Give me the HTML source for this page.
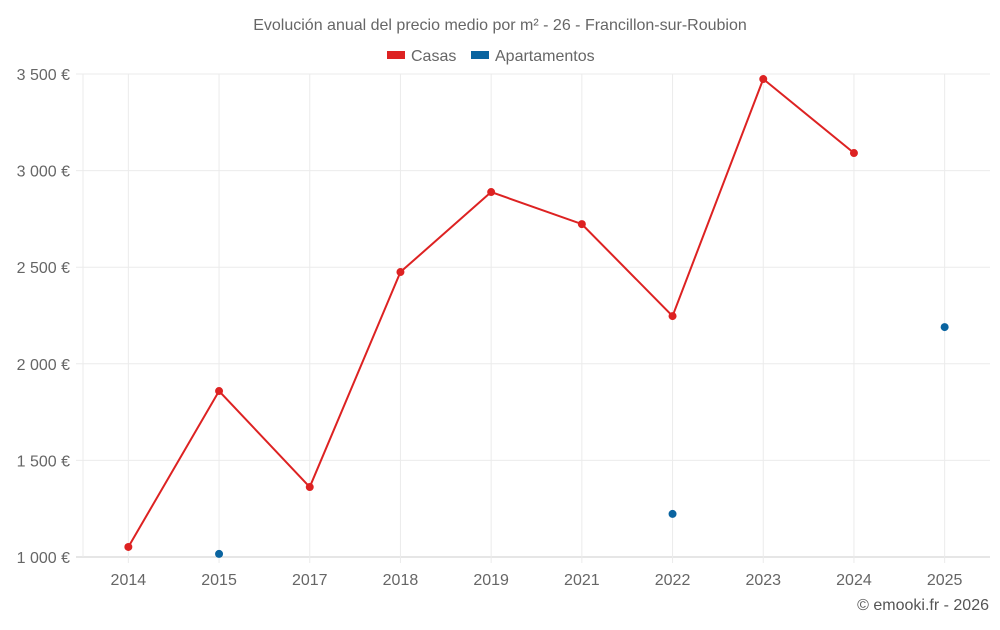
<!DOCTYPE html>
<html><head><meta charset="utf-8"><style>
body{margin:0;background:#fff;font-family:"Liberation Sans",sans-serif;}
svg text{font-family:"Liberation Sans",sans-serif;}
</style></head><body>
<svg id="c" width="1000" height="625">
<text x="500" y="30" text-anchor="middle" font-size="16" fill="#666">Evolución anual del precio medio por m² - 26 - Francillon-sur-Roubion</text>
<g><rect x="387" y="51" width="18" height="8" fill="#dd2222"/><text x="411" y="61" font-size="16" fill="#666">Casas</text></g>
<g><rect x="471" y="51" width="18" height="8" fill="#0a64a0"/><text x="495" y="61" font-size="16" fill="#666">Apartamentos</text></g>
<text x="989" y="610" text-anchor="end" font-size="16" fill="#555">© emooki.fr - 2026</text>
<g id="plot"></g>
</svg>
<script>
const categories=["2014","2015","2017","2018","2019","2021","2022","2023","2024","2025"];
const casas=[1052,1859,1362,2475,2889,2723,2247,3474,3091,null];
const apartamentos=[null,1016,null,null,null,null,1223,null,null,2190];
const yTicks=[1000,1500,2000,2500,3000,3500];
const yLabels=["1 000 €","1 500 €","2 000 €","2 500 €","3 000 €","3 500 €"];
const L=83,R=990,T=74,B=557,ymin=1000,ymax=3500;
const bw=(R-L)/categories.length;
const x=i=>L+bw*(i+0.5);
const y=v=>B-(v-ymin)/(ymax-ymin)*(B-T);
const NS="http://www.w3.org/2000/svg";
const g=document.getElementById('plot');
function mk(t,a){const e=document.createElementNS(NS,t);for(const k in a)e.setAttribute(k,a[k]);g.appendChild(e);return e;}
yTicks.forEach((v,i)=>{
 const l=mk('line',{x1:76,x2:R,y1:y(v),y2:y(v),stroke:i==0?'#ccc':'#ebebeb'});
 
 
 const t=mk('text',{x:70,y:y(v)+6,'text-anchor':'end','font-size':16,fill:'#666'});t.textContent=yLabels[i];
 
 
});
const vl=mk('line',{x1:L,x2:L,y1:T,y2:B,stroke:'#ebebeb'});


categories.forEach((c,i)=>{
 const l=mk('line',{x1:x(i),x2:x(i),y1:T,y2:B+6,stroke:'#ebebeb'});
 
 
 const t=mk('text',{x:x(i),y:B+28,'text-anchor':'middle','font-size':16,fill:'#666'});t.textContent=c;
 
 
});
let d='';casas.forEach((v,i)=>{if(v!=null)d+=(d?'L':'M')+x(i)+','+y(v);});
const p=mk('path',{d:d,fill:'none',stroke:'#dd2222','stroke-width':2});


casas.forEach((v,i)=>{if(v==null)return;const c=mk('circle',{cx:x(i),cy:y(v),r:4,fill:'#dd2222'});
 
 });
apartamentos.forEach((v,i)=>{if(v==null)return;const c=mk('circle',{cx:x(i),cy:y(v),r:4,fill:'#0a64a0'});
 
 });
</script>
</body></html>
